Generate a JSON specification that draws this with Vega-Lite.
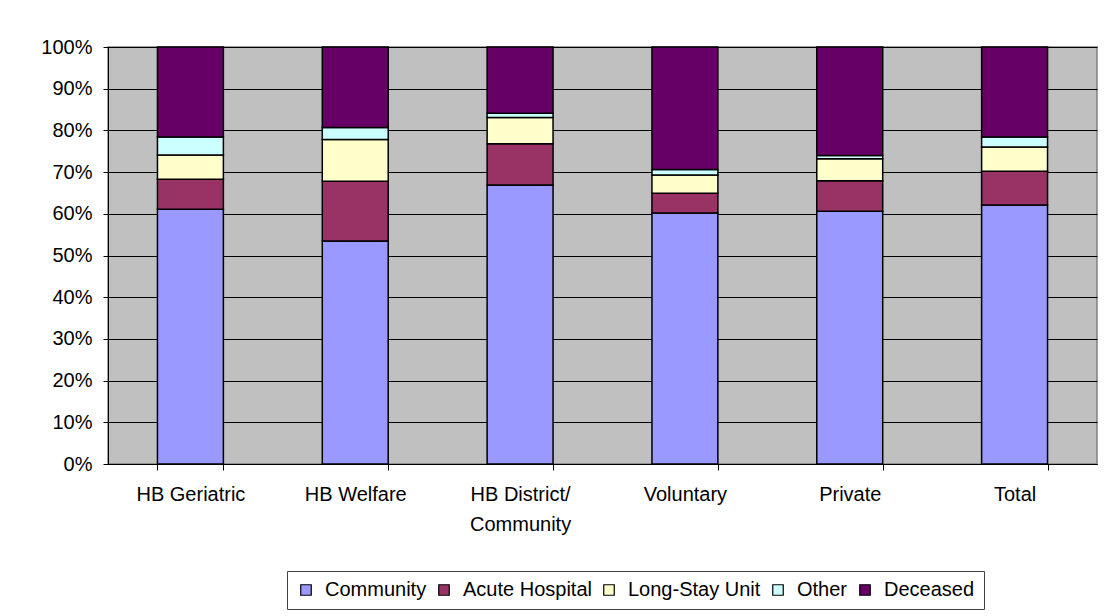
{
  "$schema": "https://vega.github.io/schema/vega-lite/v6.json",
  "autosize": "none",
  "width": 989,
  "height": 417,
  "padding": {"left": 108, "top": 47, "right": 12, "bottom": 152},
  "background": "white",
  "data": {
    "values": [
      {"cat": "HB Geriatric", "dest": "Community", "pct": 61.1},
      {"cat": "HB Geriatric", "dest": "Acute Hospital", "pct": 7.2},
      {"cat": "HB Geriatric", "dest": "Long-Stay Unit", "pct": 5.8},
      {"cat": "HB Geriatric", "dest": "Other", "pct": 4.3},
      {"cat": "HB Geriatric", "dest": "Deceased", "pct": 21.6},
      {"cat": "HB Welfare", "dest": "Community", "pct": 53.5},
      {"cat": "HB Welfare", "dest": "Acute Hospital", "pct": 14.3},
      {"cat": "HB Welfare", "dest": "Long-Stay Unit", "pct": 10.0},
      {"cat": "HB Welfare", "dest": "Other", "pct": 2.9},
      {"cat": "HB Welfare", "dest": "Deceased", "pct": 19.3},
      {"cat": "HB District/ Community", "dest": "Community", "pct": 66.9},
      {"cat": "HB District/ Community", "dest": "Acute Hospital", "pct": 9.9},
      {"cat": "HB District/ Community", "dest": "Long-Stay Unit", "pct": 6.3},
      {"cat": "HB District/ Community", "dest": "Other", "pct": 1.0},
      {"cat": "HB District/ Community", "dest": "Deceased", "pct": 15.9},
      {"cat": "Voluntary", "dest": "Community", "pct": 60.2},
      {"cat": "Voluntary", "dest": "Acute Hospital", "pct": 4.7},
      {"cat": "Voluntary", "dest": "Long-Stay Unit", "pct": 4.4},
      {"cat": "Voluntary", "dest": "Other", "pct": 1.3},
      {"cat": "Voluntary", "dest": "Deceased", "pct": 29.4},
      {"cat": "Private", "dest": "Community", "pct": 60.6},
      {"cat": "Private", "dest": "Acute Hospital", "pct": 7.3},
      {"cat": "Private", "dest": "Long-Stay Unit", "pct": 5.3},
      {"cat": "Private", "dest": "Other", "pct": 0.8},
      {"cat": "Private", "dest": "Deceased", "pct": 26.0},
      {"cat": "Total", "dest": "Community", "pct": 62.1},
      {"cat": "Total", "dest": "Acute Hospital", "pct": 8.1},
      {"cat": "Total", "dest": "Long-Stay Unit", "pct": 5.8},
      {"cat": "Total", "dest": "Other", "pct": 2.4},
      {"cat": "Total", "dest": "Deceased", "pct": 21.6}
    ]
  },
  "transform": [
    {"calculate": "indexof(['Community', 'Acute Hospital', 'Long-Stay Unit', 'Other', 'Deceased'], datum.dest)", "as": "stackOrder"}
  ],
  "mark": {"type": "bar", "stroke": "black", "strokeWidth": 1.5},
  "encoding": {
    "x": {
      "field": "cat",
      "type": "nominal",
      "sort": ["HB Geriatric", "HB Welfare", "HB District/ Community", "Voluntary", "Private", "Total"],
      "scale": {"paddingInner": 0.6, "paddingOuter": 0.3},
      "axis": {
        "title": null,
        "labelAngle": 0,
        "tickBand": "extent",
        "tickSize": 6,
        "labelPadding": 14,
        "labelLineHeight": 30,
        "labelExpr": "datum.value == 'HB District/ Community' ? ['HB District/', 'Community'] : datum.value"
      }
    },
    "y": {
      "field": "pct",
      "type": "quantitative",
      "stack": "normalize",
      "scale": {"domain": [0, 1], "nice": false},
      "axis": {
        "title": null,
        "format": ".0%",
        "values": [0, 0.1, 0.2, 0.3, 0.4, 0.5, 0.6, 0.7, 0.8, 0.9, 1],
        "grid": true,
        "gridColor": "black",
        "gridOpacity": 1,
        "gridWidth": 1,
        "tickSize": 5,
        "labelPadding": 11
      }
    },
    "color": {
      "field": "dest",
      "type": "nominal",
      "sort": ["Community", "Acute Hospital", "Long-Stay Unit", "Other", "Deceased"],
      "scale": {
        "domain": ["Community", "Acute Hospital", "Long-Stay Unit", "Other", "Deceased"],
        "range": ["#9999FF", "#993366", "#FFFFCC", "#CCFFFF", "#660066"]
      },
      "legend": {
        "title": null,
        "orient": "none",
        "legendX": 179,
        "legendY": 524,
        "direction": "horizontal",
        "columns": 5,
        "padding": 9,
        "strokeColor": "#404040",
        "fillColor": "white",
        "symbolType": "square",
        "symbolSize": 110,
        "symbolStrokeColor": "black",
        "symbolStrokeWidth": 1.2,
        "symbolOpacity": 1,
        "labelFontSize": 20,
        "labelFont": "Liberation Sans",
        "labelColor": "black",
        "labelOffset": 9,
        "columnPadding": 7,
        "labelLimit": 0
      }
    },
    "order": {"field": "stackOrder", "type": "quantitative", "sort": "ascending"}
  },
  "config": {
    "view": {"fill": "#C0C0C0", "stroke": "#808080", "strokeWidth": 1.5},
    "axis": {
      "domainColor": "black",
      "domainWidth": 1,
      "tickColor": "black",
      "tickWidth": 1,
      "labelColor": "black",
      "labelFont": "Liberation Sans",
      "labelFontSize": 20,
      "grid": false
    }
  }
}
